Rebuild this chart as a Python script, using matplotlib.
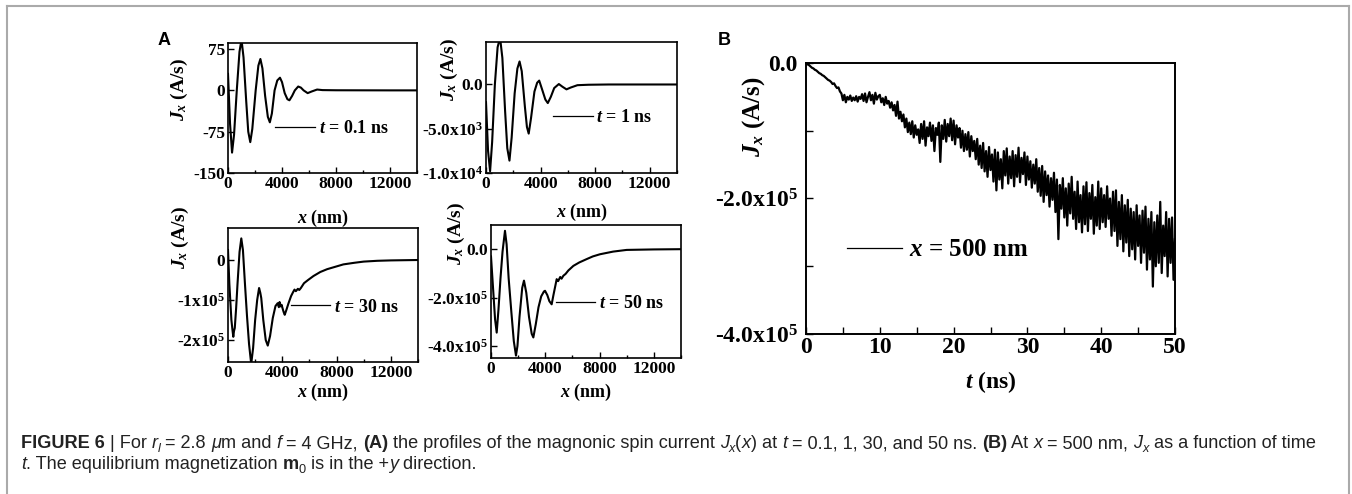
import numpy as np
import matplotlib
matplotlib.use("Agg")
import matplotlib.pyplot as plt
from matplotlib.lines import Line2D
from matplotlib.ticker import FixedLocator, FixedFormatter, MultipleLocator

# ---- data ----
# (A) t = 0.1 ns, Jx in A/s
x_t01 = [0, 150, 300, 450, 650, 850, 1000, 1150, 1350, 1500, 1650, 1800, 2050, 2250,
         2400, 2550, 2750, 2950, 3100, 3250, 3450, 3650, 3850, 4000, 4200, 4400, 4550,
         4750, 4950, 5200, 5400, 5600, 5900, 6200, 6600, 7000, 8000, 10000, 12000, 14000]
jx_t01 = [30, -60, -113, -80, 0, 70, 92, 60, -20, -75, -94, -70, 0, 45,
          57, 40, -10, -48, -58, -42, 0, 18, 23, 15, -5, -16, -18,
          -10, 0, 7, 5, 0, -5, -2, 1.5, 0.5, 0.2, 0.1, 0, 0]

# (A) t = 1 ns, Jx in A/s
x_t1 = [0, 150, 300, 450, 650, 850, 1030, 1200, 1400, 1560, 1720, 1880, 2100, 2300,
        2460, 2620, 2850, 3000, 3130, 3300, 3550, 3750, 3900, 4100, 4350, 4530, 4750,
        5000, 5340, 5600, 5900, 6200, 6700, 7500, 9000, 14000]
jx_t1 = [-2000, -7500, -9800, -6500, 0, 4200, 5300, 3000, -3000, -7200, -8600, -6000,
         -1000, 1800, 2600, 1500, -2500, -4800, -5550, -3800, -800, 200, 440, -500,
         -1700, -2100, -1400, -400, 50, -250, -550, -350, -80, -30, 0, 0]

# (A) t = 30 ns, Jx in 1e5 A/s
x_t30 = [0, 100, 250, 330, 390, 440, 500, 600, 700, 850, 980, 1100, 1250, 1400, 1550,
         1710, 1850, 2000, 2150, 2290, 2380, 2450, 2600, 2780, 2930, 3100, 3300, 3500,
         3660, 3750, 3800, 3880, 3950, 4030, 4100, 4180, 4300, 4460, 4650, 4800, 4900,
         5000, 5150, 5250, 5370, 5600, 5900, 6300, 6800, 7300, 7700, 8500, 9300, 10000,
         11000, 12000, 14000]
jx_t30 = [0.25, -0.6, -1.5, -1.75, -1.92, -1.78, -1.7, -1.2, -0.6, 0.2, 0.54, 0.25, -0.6,
          -1.4, -2.1, -2.6, -2.2, -1.5, -1.0, -0.70, -0.82, -0.95, -1.5, -2.0, -2.14,
          -1.9, -1.45, -1.15, -1.08, -1.18, -1.05, -1.16, -1.12, -1.22, -1.30, -1.37,
          -1.25, -1.08, -0.90, -0.80, -0.74, -0.78, -0.72, -0.75, -0.70, -0.58, -0.50,
          -0.40, -0.30, -0.23, -0.19, -0.11, -0.07, -0.04, -0.02, -0.01, 0]

# (A) t = 50 ns, Jx in 1e5 A/s
x_t50 = [0, 150, 300, 420, 550, 700, 850, 1030, 1150, 1300, 1500, 1680, 1840, 1950,
         2100, 2300, 2430, 2600, 2800, 3000, 3120, 3300, 3500, 3700, 3900, 3980, 4150,
         4300, 4470, 4600, 4840, 4950, 5100, 5200, 5330, 5500, 5700, 6070, 6500, 7050,
         7500, 8030, 9000, 10000, 12000, 14000]
jx_t50 = [-0.3, -1.6, -2.9, -3.45, -2.5, -1.2, -0.1, 0.76, 0.2, -1.2, -2.6, -3.8, -4.4,
          -4.0, -2.8, -1.6, -1.3, -1.8, -2.8, -3.5, -3.65, -3.1, -2.4, -1.95, -1.75,
          -1.72, -1.9, -2.15, -2.28, -1.9, -1.24, -1.32, -1.15, -1.22, -1.10, -1.02,
          -0.88, -0.69, -0.55, -0.41, -0.30, -0.21, -0.10, -0.03, -0.01, 0]

# (B) x = 500 nm, Jx in 1e5 A/s, sampled every 0.2 ns from 0 to 50 ns
t_b = np.linspace(0, 50, 251)
jx_b = [
    0.00, -0.02, -0.03, -0.05, -0.07, -0.08, -0.10, -0.11, -0.13, -0.15,
    -0.16, -0.18, -0.19, -0.21, -0.23, -0.25, -0.26, -0.28, -0.31, -0.30,
    -0.34, -0.37, -0.36, -0.42, -0.45, -0.55, -0.47, -0.58, -0.50, -0.54,
    -0.48, -0.56, -0.51, -0.55, -0.49, -0.57, -0.50, -0.53, -0.46, -0.56,
    -0.45, -0.58, -0.50, -0.43, -0.55, -0.47, -0.60, -0.44, -0.54, -0.49,
    -0.47, -0.58, -0.52, -0.62, -0.50, -0.60, -0.56, -0.66, -0.58, -0.70,
    -0.62, -0.78, -0.57, -0.82, -0.72, -0.86, -0.76, -0.95, -0.82, -1.02,
    -0.88, -1.05, -0.86, -1.10, -0.92, -1.06, -0.98, -1.18, -0.90, -1.12,
    -0.86, -1.22, -0.95, -1.08, -0.88, -1.15, -0.92, -1.30, -0.96, -1.06,
    -0.88, -1.46, -0.92, -1.12, -0.84, -1.16, -0.90, -1.08, -0.82, -1.14,
    -0.85, -1.20, -0.92, -1.10, -0.96, -1.25, -1.00, -1.30, -1.05, -1.28,
    -1.02, -1.38, -1.08, -1.30, -1.15, -1.42, -1.12, -1.50, -1.22, -1.55,
    -1.18, -1.60, -1.30, -1.68, -1.24, -1.58, -1.35, -1.75, -1.28, -1.88,
    -1.32, -1.72, -1.42, -1.85, -1.30, -1.66, -1.26, -1.78, -1.38, -1.70,
    -1.30, -1.82, -1.36, -1.68, -1.25, -1.76, -1.40, -1.64, -1.32, -1.80,
    -1.38, -1.72, -1.45, -1.84, -1.50, -1.78, -1.42, -1.90, -1.55, -1.96,
    -1.52, -2.05, -1.60, -1.95, -1.66, -2.12, -1.70, -2.02, -1.62, -2.20,
    -1.72, -2.60, -1.80, -2.15, -1.70, -2.28, -1.85, -2.40, -1.78, -2.22,
    -1.68, -2.30, -1.90, -2.45, -1.75, -2.35, -1.95, -2.50, -1.82, -2.38,
    -1.76, -2.48, -1.92, -2.30, -1.80, -2.52, -1.98, -2.40, -1.75, -2.45,
    -1.85, -2.35, -1.95, -2.42, -1.82, -2.30, -2.00, -2.55, -1.90, -2.48,
    -1.88, -2.70, -2.05, -2.60, -1.95, -2.78, -2.10, -2.65, -2.02, -2.85,
    -2.15, -2.75, -2.20, -2.90, -2.10, -2.70, -2.25, -2.95, -2.18, -2.80,
    -2.12, -3.05, -2.30, -2.90, -2.20, -3.30, -2.35, -3.00, -2.25, -2.95,
    -2.05, -3.10, -2.40, -2.85, -2.20, -3.15, -2.30, -2.95, -2.28, -3.20,
    -2.60,
]

# tick labels
yt_t01 = [-150, -75, 0, 75]
yl_t01 = ["-150", "-75", "0", "75"]
yt_t1 = [-1.0e4, -5.0e3, 0]
yl_t1 = ["-1.0x10$^4$", "-5.0x10$^3$", "0.0"]
yt_t30 = [-2, -1, 0]
yl_t30 = ["-2x10$^5$", "-1x10$^5$", "0"]
yt_t50 = [-4, -2, 0]
yl_t50 = ["-4.0x10$^5$", "-2.0x10$^5$", "0.0"]
yt_b = [-4, -2, 0]
yl_b = ["-4.0x10$^5$", "-2.0x10$^5$", "0.0"]
xt_a = [0, 4000, 8000, 12000]

legend_a = ["$t$ = 0.1 ns", "$t$ = 1 ns", "$t$ = 30 ns", "$t$ = 50 ns"]
legend_b = "$x$ = 500 nm"

# ---- style ----
plt.rcParams["font.family"] = "Liberation Serif"
plt.rcParams["font.weight"] = "bold"
plt.rcParams["axes.labelweight"] = "bold"
plt.rcParams["mathtext.fontset"] = "custom"
plt.rcParams["mathtext.rm"] = "Liberation Serif:bold"
plt.rcParams["mathtext.it"] = "Liberation Serif:bold:italic"
plt.rcParams["mathtext.bf"] = "Liberation Serif:bold"

W, H = 1352, 494
fig = plt.figure(figsize=(W / 100, H / 100), dpi=100)


def px_axes(l, t, r, b):
    return fig.add_axes([l / W, 1 - b / H, (r - l) / W, (b - t) / H])


def style_axes(ax, size, lw=1.2):
    for s in ax.spines.values():
        s.set_linewidth(lw)
    ax.tick_params(which="both", direction="in", top=False, right=False,
                   labelsize=size, width=1.0, pad=2)
    ax.tick_params(which="major", length=4)
    ax.tick_params(which="minor", length=2.5)


# panel A: (box, x, y, ylim, yticks, ylabels, legend anchor, ylabel pos, xlabel pos)
panels = [
    ((228, 43, 417, 173), x_t01, jx_t01, (-150, 86), yt_t01, yl_t01,
     (0.25, 0.34), (-0.20, 0.64), (0.5, -0.27)),
    ((486, 42, 677, 173), x_t1, jx_t1, (-1.0e4, 4800), yt_t1, yl_t1,
     (0.35, 0.42), (-0.135, 0.79), (0.5, -0.22)),
    ((228, 228, 418, 362), x_t30, jx_t30, (-2.55, 0.8), yt_t30, yl_t30,
     (0.33, 0.41), (-0.195, 0.93), (0.5, -0.15)),
    ((491, 225, 681, 358), x_t50, jx_t50, (-4.5, 1.0), yt_t50, yl_t50,
     (0.34, 0.41), (-0.125, 0.94), (0.5, -0.18)),
]

for i, (box, xs, ys, ylim, yt, yl, leg_pos, ylab_pos, xlab_pos) in enumerate(panels):
    ax = px_axes(*box)
    ax.plot(xs, ys, color="black", lw=1.5)
    ax.set_xlim(0, 14000)
    ax.set_ylim(*ylim)
    ax.xaxis.set_major_locator(FixedLocator(xt_a))
    ax.xaxis.set_minor_locator(MultipleLocator(2000))
    ax.yaxis.set_major_locator(FixedLocator(yt))
    ax.yaxis.set_major_formatter(FixedFormatter(yl))
    style_axes(ax, 12.5)
    ax.set_ylabel("$J_x$ (A/s)", fontsize=14)
    ax.yaxis.set_label_coords(*ylab_pos)
    ax.set_xlabel("$x$ (nm)", fontsize=13)
    ax.xaxis.set_label_coords(*xlab_pos)
    ax.legend([Line2D([], [], color="black", lw=0.9)], [legend_a[i]],
              loc="center left", bbox_to_anchor=leg_pos, frameon=False,
              fontsize=13, handlelength=2.2, handletextpad=0.2,
              borderpad=0, borderaxespad=0)

# panel B
axb = px_axes(806, 63, 1175, 334)
axb.plot(t_b, jx_b, color="black", lw=1.6)
axb.set_xlim(0, 50)
axb.set_ylim(-4, 0)
axb.xaxis.set_major_locator(MultipleLocator(10))
axb.xaxis.set_minor_locator(MultipleLocator(5))
axb.yaxis.set_major_locator(FixedLocator(yt_b))
axb.yaxis.set_major_formatter(FixedFormatter(yl_b))
axb.yaxis.set_minor_locator(FixedLocator([-3, -1]))
style_axes(axb, 17, lw=1.4)
axb.tick_params(which="major", length=5)
axb.tick_params(which="minor", length=5)
axb.tick_params(axis="y", pad=6)
axb.set_ylabel("$J_x$ (A/s)", fontsize=18)
axb.yaxis.set_label_coords(-0.105, 0.80)
axb.set_xlabel("$t$ (ns)", fontsize=17)
axb.xaxis.set_label_coords(0.5, -0.13)
axb.legend([Line2D([], [], color="black", lw=0.9)], [legend_b], loc="center left",
           bbox_to_anchor=(0.11, 0.31), frameon=False, fontsize=18,
           handlelength=2.2, handletextpad=0.3, borderpad=0, borderaxespad=0)

# panel letters
fig.text(158 / W, 1 - 45 / H, "A", family="Liberation Sans", weight="bold",
         fontsize=13, va="baseline")
fig.text(718 / W, 1 - 45 / H, "B", family="Liberation Sans", weight="bold",
         fontsize=13, va="baseline")

# gray frame
frame_kw = dict(transform=fig.transFigure, color="#aaaaaa", lw=1.5)
fig.add_artist(Line2D([7 / W, 7 / W], [0, 1 - 6 / H], **frame_kw))
fig.add_artist(Line2D([7 / W, 1349 / W], [1 - 6 / H, 1 - 6 / H], **frame_kw))
fig.add_artist(Line2D([1349 / W, 1349 / W], [0, 1 - 6 / H], **frame_kw))

# caption, built from pieces so fonts can change mid-line
cap_line1 = [
    ("FIGURE 6", "b"), (" | For ", "r"), ("r", "i"), ("l", "is"), (" = 2.8 ", "r"),
    ("\u03bc", "i"), ("m and ", "r"), ("f", "i"), (" = 4 GHz, ", "r"), ("(A)", "b"),
    (" the profiles of the magnonic spin current ", "r"), ("J", "i"), ("x", "is"),
    ("(", "r"), ("x", "i"), (") at ", "r"), ("t", "i"),
    (" = 0.1, 1, 30, and 50 ns. ", "r"), ("(B)", "b"), (" At ", "r"), ("x", "i"),
    (" = 500 nm, ", "r"), ("J", "i"), ("x", "is"), (" as a function of time", "r"),
]
cap_line2 = [
    ("t", "i"), (". The equilibrium magnetization ", "r"), ("m", "b"), ("0", "rs"),
    (" is in the +", "r"), ("y", "i"), (" direction.", "r"),
]


def caption_line(x0, y0, pieces, size=13.1):
    last = None
    for text, st in pieces:
        kw = dict(family="Liberation Sans", color="#222222", va="baseline", ha="left",
                  fontsize=size, weight="normal", style="normal")
        if st == "b":
            kw["weight"] = "bold"
        if st.startswith("i"):
            kw["style"] = "italic"
        dy = 0
        if st.endswith("s"):
            kw["fontsize"] = size * 0.7
            dy = -3
        if last is None:
            last = fig.text(x0 / W, 1 - y0 / H, text, **kw)
        else:
            last = fig.add_artist(plt.Annotation(
                text, xy=(1, 1 - y0 / H), xycoords=(last, "figure fraction"),
                xytext=(0, dy), textcoords="offset points", **kw))


caption_line(21, 448, cap_line1)
caption_line(21, 469, cap_line2)

fig.savefig("out.png", dpi=100)
